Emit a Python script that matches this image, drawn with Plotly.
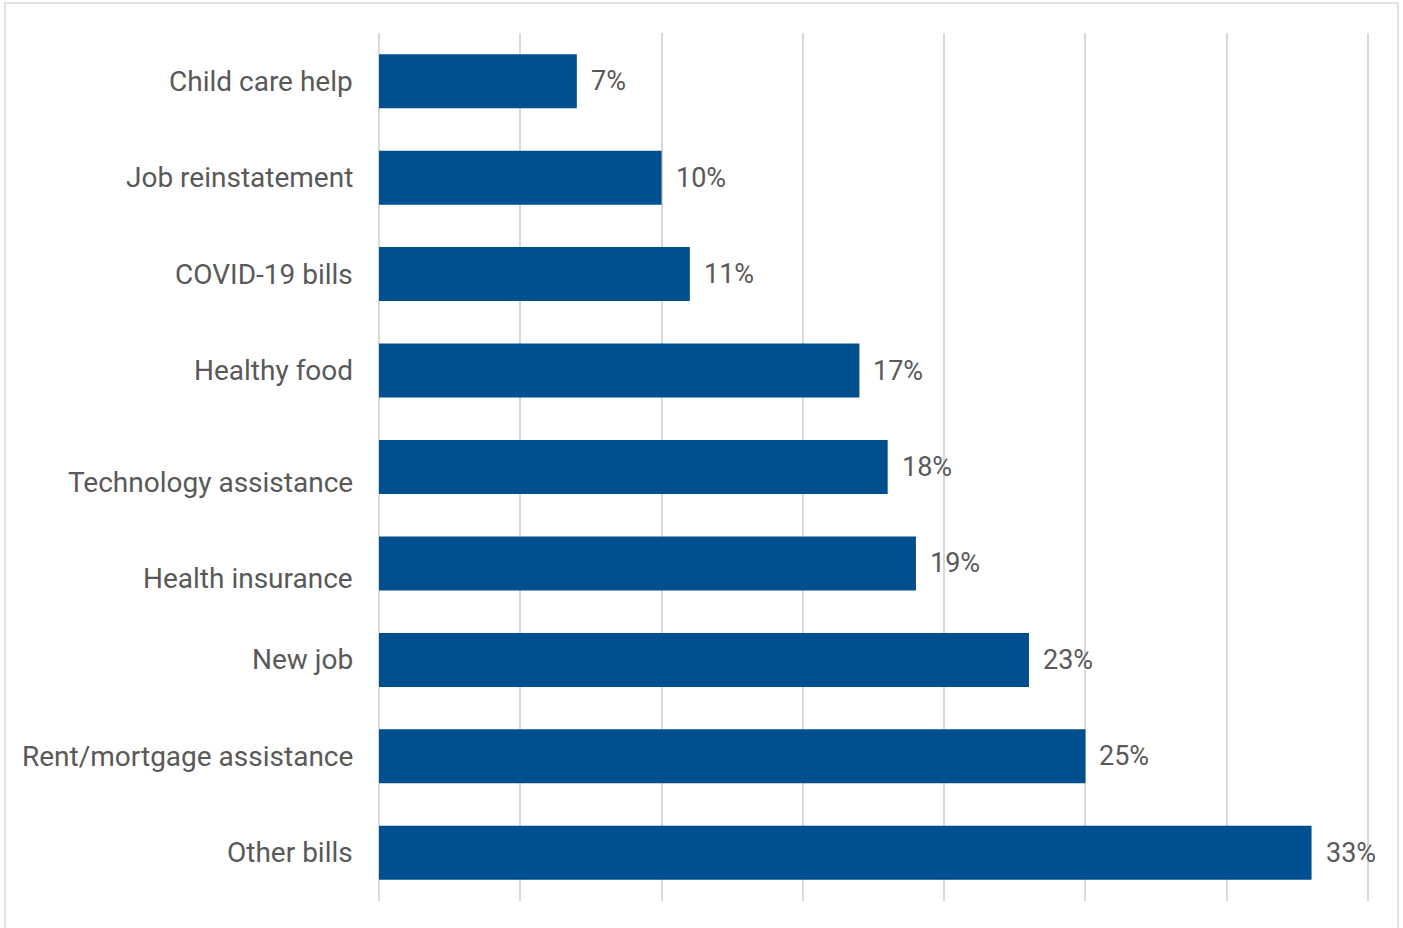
import plotly.graph_objects as go

categories = [
    "Child care help",
    "Job reinstatement",
    "COVID-19 bills",
    "Healthy food",
    "Technology assistance",
    "Health insurance",
    "New job",
    "Rent/mortgage assistance",
    "Other bills",
]
percent = [7, 10, 11, 17, 18, 19, 23, 25, 33]
# categories whose label sits half a line below the bar centre
lowered = {"Technology assistance", "Health insurance"}

BAR_COLOR = "#00508F"
TEXT_COLOR = "#595959"
FONT = "Roboto"

fig = go.Figure(
    go.Bar(
        x=percent,
        y=categories,
        orientation="h",
        marker=dict(color=BAR_COLOR, line=dict(width=0)),
        hoverinfo="skip",
    )
)

annotations = []
for cat, v in zip(categories, percent):
    # value label to the right of each bar
    annotations.append(dict(
        x=v, y=cat, xref="x", yref="y",
        text=f"{v}%", showarrow=False,
        xanchor="left", yanchor="middle", xshift=12,
        font=dict(family=FONT, size=27, color=TEXT_COLOR),
    ))
    # category label to the left of the axis
    annotations.append(dict(
        x=0, y=cat, xref="paper", yref="y",
        text=cat, showarrow=False,
        xanchor="right", yanchor="middle", xshift=-24,
        yshift=-15 if cat in lowered else 0,
        font=dict(family=FONT, size=28, color=TEXT_COLOR),
    ))

PLOT_W = 1403 - 379 - 27

fig.update_layout(
    width=1403, height=928,
    margin=dict(l=379, r=27, t=33, b=27),
    paper_bgcolor="white", plot_bgcolor="white",
    bargap=0.44,
    showlegend=False,
    annotations=annotations,
    xaxis=dict(
        range=[0, 35.28], dtick=5, showticklabels=False,
        showgrid=True, gridcolor="#D9D9D9", gridwidth=2,
        zeroline=True, zerolinecolor="#D9D9D9", zerolinewidth=2,
        showline=False, fixedrange=True,
    ),
    yaxis=dict(
        autorange="reversed", showticklabels=False,
        showgrid=False, zeroline=False, showline=False,
    ),
    shapes=[dict(
        type="rect", xref="paper", yref="paper",
        x0=(5 - 379) / PLOT_W, x1=(1398 - 379) / PLOT_W,
        y0=-0.04, y1=1 + 30 / 868,
        line=dict(color="#D9D9D9", width=1.5), layer="below",
    )],
)

fig.write_html("out.html")
